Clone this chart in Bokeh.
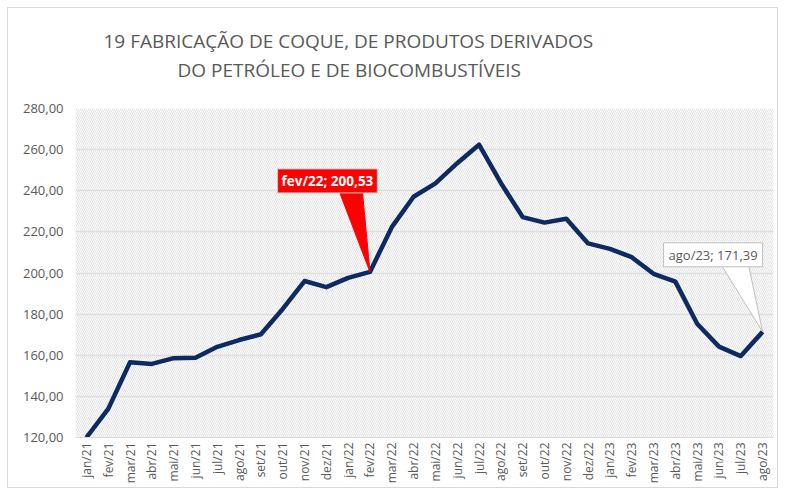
import math
from bokeh.plotting import figure
from bokeh.models import (FixedTicker, BoxAnnotation, Label, Range1d, Title)
from bokeh.embed import file_html
from bokeh.resources import INLINE

# ---- data ----
months = ["jan/21", "fev/21", "mar/21", "abr/21", "mai/21", "jun/21", "jul/21", "ago/21",
          "set/21", "out/21", "nov/21", "dez/21",
          "jan/22", "fev/22", "mar/22", "abr/22", "mai/22", "jun/22", "jul/22", "ago/22",
          "set/22", "out/22", "nov/22", "dez/22",
          "jan/23", "fev/23", "mar/23", "abr/23", "mai/23", "jun/23", "jul/23", "ago/23"]
values = [120.0, 133.9, 156.6, 155.8, 158.6, 158.8, 164.1, 167.4, 170.2, 182.5, 196.1, 193.1,
          197.6, 200.53, 222.3, 237.1, 243.6, 253.4, 262.4, 243.8, 227.2, 224.5, 226.4, 214.4,
          211.7, 207.7, 199.6, 195.8, 175.3, 164.2, 159.6, 171.39]
y_ticks = [120, 140, 160, 180, 200, 220, 240, 260, 280]
title_lines = ["19 FABRICAÇÃO DE COQUE, DE PRODUTOS DERIVADOS",
               "DO PETRÓLEO E DE BIOCOMBUSTÍVEIS"]
title_offsets = [28, 102]
highlight_red = "fev/22"
highlight_last = "ago/23"


def fmt(v):
    return f"{v:.2f}".replace(".", ",")


FONT = "Open Sans"
GRAY = "#595959"

xs = list(range(len(months)))

p = figure(width=771, height=481, output_backend="svg", toolbar_location=None,
           x_range=Range1d(-0.5, len(months) - 0.5), y_range=Range1d(120, 280),
           min_border_left=67, min_border_right=6, min_border_top=100, min_border_bottom=52)
p.styles = {"margin": "7px 0 0 7px", "border": "1px solid #d9d9d9"}
p.outline_line_color = None
p.background_fill_color = "white"
p.border_fill_color = "white"

# hatched plot area
p.add_layout(BoxAnnotation(fill_color=None, line_color=None, hatch_pattern="left_diagonal_line",
                           hatch_color="#e2e2e2", hatch_scale=4, hatch_weight=1,
                           level="underlay"))

# axes
p.xaxis.ticker = FixedTicker(ticks=xs)
p.xaxis.major_label_overrides = {i: m for i, m in enumerate(months)}
p.xaxis.major_label_orientation = math.pi / 2
p.xaxis.axis_line_color = "#d9d9d9"
p.xaxis.major_tick_line_color = None
p.xaxis.minor_tick_line_color = None
p.xaxis.major_tick_out = 0
p.xaxis.major_tick_in = 0
p.xaxis.major_label_standoff = 5
p.xaxis.major_label_text_font = FONT
p.xaxis.major_label_text_font_size = "12px"
p.xaxis.major_label_text_color = GRAY

p.yaxis.ticker = FixedTicker(ticks=y_ticks)
p.yaxis.major_label_overrides = {t: fmt(t) for t in y_ticks}
p.yaxis.axis_line_color = None
p.yaxis.major_tick_line_color = None
p.yaxis.minor_tick_line_color = None
p.yaxis.major_tick_out = 0
p.yaxis.major_tick_in = 0
p.yaxis.major_label_standoff = 12
p.yaxis.major_label_text_font = FONT
p.yaxis.major_label_text_font_size = "13px"
p.yaxis.major_label_text_color = GRAY

p.xgrid.grid_line_color = None
p.ygrid.grid_line_color = "#d9d9d9"
p.ygrid.grid_line_width = 1.5
p.ygrid.level = "image"

# series line
p.line(xs, values, line_color="#0d2a62", line_width=4.5, line_join="round")

# callout pointers (offsets are styling)
ir = months.index(highlight_red)
vr = values[ir]
p.patch([ir, ir - 1.46, ir - 0.36], [vr, vr + 40.6, vr + 40.6],
        fill_color="red", line_color="red", line_width=1)
il = months.index(highlight_last)
vl = values[il]
p.patch([il, il - 1.88, il - 0.64], [vl, vl + 32.3, vl + 32.3],
        fill_color="white", line_color="#bfbfbf", line_width=1)

p.add_layout(Label(x=ir, y=vr, x_offset=-42.5, y_offset=91,
                   text=f"{highlight_red}; {fmt(vr)}", text_align="center", text_baseline="middle",
                   text_font=FONT, text_font_size="13.5px", text_font_style="bold", text_color="white",
                   background_fill_color="red", border_line_color="#c8c8c8",
                   padding=dict(left=4, right=4, top=3, bottom=3)))
p.add_layout(Label(x=il, y=vl, x_offset=-49.5, y_offset=77,
                   text=f"{highlight_last}; {fmt(vl)}", text_align="center", text_baseline="middle",
                   text_font=FONT, text_font_size="13px", text_color=GRAY,
                   background_fill_color="white", border_line_color="#bfbfbf",
                   padding=dict(left=5, right=5, top=3, bottom=3)))

# title: spacer nearest the frame, then line 2, then line 1
p.add_layout(Title(text=" ", text_font_size="10px", standoff=12), "above")
for line, off in zip(reversed(title_lines), reversed(title_offsets)):
    p.add_layout(Title(text=line, align="left", offset=off, standoff=1, vertical_align="bottom",
                       text_font=FONT, text_font_size="19px", text_font_style="normal",
                       text_color=GRAY), "above")

open("out.html", "w").write(file_html(p, INLINE))
